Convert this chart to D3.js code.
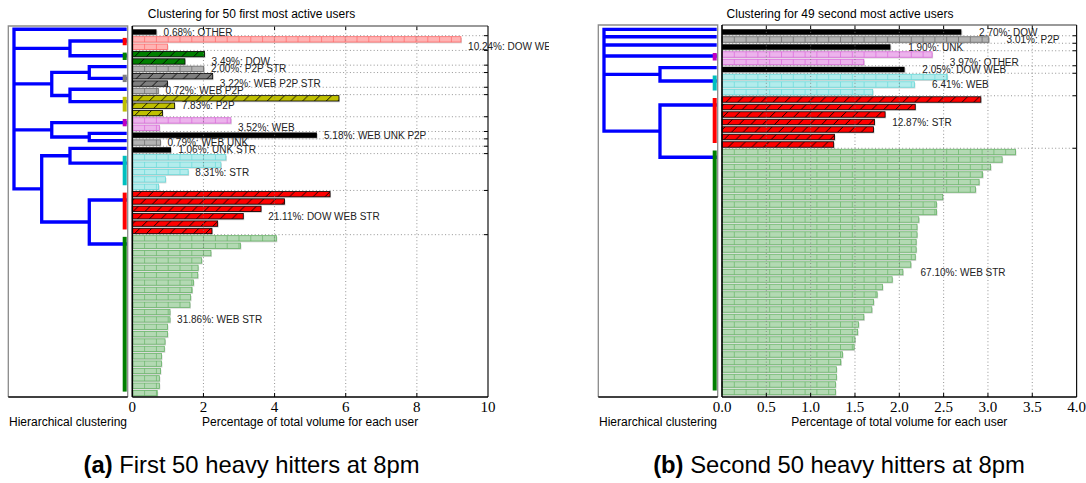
<!DOCTYPE html>
<html><head><meta charset="utf-8">
<script src="https://cdn.jsdelivr.net/npm/d3@7"></script>
<style>body{margin:0;background:#fff} svg{display:block}</style>
</head><body><svg id="c" width="1086" height="483"></svg>
<script>
// ---------------- DATA ----------------
// (a) first 50 users: per-user share of volume (%), in dendrogram order
const leftValues = [0.68, 9.24, 0.99, 2.03, 1.48, 2.01, 2.26, 0.99, 0.73, 5.81, 1.19, 0.85, 2.77, 0.76,
  5.19, 0.79, 1.09, 2.63, 2.49, 1.57, 0.93, 0.74, 5.56, 4.28, 3.62, 3.12, 2.40, 2.24,
  4.05, 3.04, 2.21, 1.95, 1.85, 1.84, 1.72, 1.68, 1.64, 1.62, 1.06, 1.06, 0.99, 0.99,
  0.92, 0.90, 0.82, 0.82, 0.79, 0.76, 0.76, 0.70];
const leftClusterNames = ["OTHER", "DOW WEB", "DOW", "P2P STR", "WEB P2P STR", "WEB P2P", "P2P", "WEB",
  "WEB UNK P2P", "WEB UNK", "UNK STR", "STR", "DOW WEB STR", "WEB STR"];
const leftClusterPct = [0.68, 10.24, 3.49, 2.00, 3.22, 0.72, 7.83, 3.52, 5.18, 0.79, 1.06, 8.31, 21.11, 31.86];
const leftClusterSizes = [1, 2, 2, 1, 2, 1, 3, 2, 1, 1, 1, 5, 6, 22];
const leftClusterColors = ["#000000", "#ff0000", "#007f00", "#000000", "#7f7f7f", "#000000", "#bfbf00", "#bf00bf",
  "#000000", "#000000", "#000000", "#00bfbf", "#ff0000", "#007f00"];
const leftClusterStyles = ["solid", "light", "hatch", "light", "hatch", "light", "hatch", "light",
  "solid", "light", "solid", "light", "hatch", "light"];
const leftLeafPos = [-0.37, 1.22, 3.22, 4.7, 6.28, 7.77, 9.46, 12.3, 13.75, 14.75, 15.78, 17.8, 22.8, 28.77];
const leftTree = {h: 0.952, c: [0, {h: 0.479, c: [1, 2]},
  {h: 0.633, c: [{h: 0.316, c: [3, 4]}, {h: 0.479, c: [5, 6]}]},
  {h: 0.633, c: [7, {h: 0.316, c: [8, 9]}]},
  {h: 0.718, c: [{h: 0.479, c: [10, 11]}, {h: 0.316, c: [12, 13]}]}]};
const leftTicks = [0, 2, 4, 6, 8, 10];

// (b) second 49 users
const rightValues = [2.70, 3.01, 1.90, 2.37, 1.60, 2.06, 2.54, 2.17, 1.70, 2.92, 2.18, 1.84, 1.72, 1.71,
  1.27, 1.26, 3.31, 3.16, 3.03, 2.94, 2.90, 2.86, 2.49, 2.42, 2.42, 2.22, 2.20, 2.20,
  2.19, 2.19, 2.18, 2.13, 2.04, 1.92, 1.81, 1.75, 1.71, 1.69, 1.60, 1.54, 1.53, 1.50,
  1.49, 1.36, 1.34, 1.29, 1.29, 1.28, 1.28];
const rightClusterNames = ["DOW", "P2P", "UNK", "OTHER", "DOW WEB", "WEB", "STR", "WEB STR"];
const rightClusterPct = [2.70, 3.01, 1.90, 3.97, 2.05, 6.41, 12.87, 67.10];
const rightClusterSizes = [1, 1, 1, 2, 1, 3, 7, 33];
const rightClusterColors = ["#000000", "#000000", "#000000", "#bf00bf", "#000000", "#00bfbf", "#ff0000", "#007f00"];
const rightClusterStyles = ["solid", "light", "solid", "light", "solid", "light", "hatch", "light"];
const rightLeafPos = [-0.36, 0.63, 1.73, 3.2, 4.76, 6.53, 9.73, 16.7];
const rightTree = {h: 0.952, c: [0, 1, 2, 3, {h: 0.479, c: [4, 5]}, {h: 0.479, c: [6, 7]}]};
const rightTicks = [0, 0.5, 1, 1.5, 2, 2.5, 3, 3.5, 4];

// ---------------- DRAWING ----------------
const SANS = "'Liberation Sans', Arial, Helvetica, sans-serif";
const SERIF = "'Liberation Serif', 'Times New Roman', serif";
const svg = d3.select("#c");
const defs = svg.append("defs");
const madePatterns = {};

function lightOf(col, t) { return d3.interpolateRgb("#ffffff", col)(t); }

function patternFor(style, col, x0) {
  const key = style + col.replace('#', '') + Math.round(x0);
  if (madePatterns[key]) return "url(#" + key + ")";
  madePatterns[key] = true;
  const w = 11.8;
  const p = defs.append("pattern").attr("id", key).attr("patternUnits", "userSpaceOnUse")
    .attr("x", x0).attr("y", 0).attr("width", w).attr("height", w);
  if (style === "light") {
    p.append("rect").attr("width", w).attr("height", w).attr("fill", lightOf(col, 0.3));
    p.append("line").attr("x1", 0.4).attr("x2", 0.4).attr("y1", 0).attr("y2", w)
      .attr("stroke", lightOf(col, 0.55)).attr("stroke-width", 0.9);
  } else {
    p.append("rect").attr("width", w).attr("height", w).attr("fill", col);
    p.append("path").attr("d", `M-1,1 l2,-2 M0,${w} l${w},${-w} M${w - 1},${w + 1} l2,-2`)
      .attr("stroke", "#000").attr("stroke-width", 0.9);
  }
  return "url(#" + key + ")";
}

function drawPanel(D, L) {
  const g = svg.append("g");
  if (L.clipRight) {
    const cid = "clip" + Math.round(L.clipRight);
    defs.append("clipPath").attr("id", cid).append("rect")
      .attr("x", 0).attr("y", 0).attr("width", L.clipRight).attr("height", 483);
    g.attr("clip-path", "url(#" + cid + ")");
  }
  const n = D.values.length;
  const x = d3.scaleLinear().domain(D.domain).range([L.bx0, L.bx1]);
  const y = d3.scaleLinear().domain([0, n - 1]).range(L.rowRange);
  const step = y(1) - y(0);
  const bh = step * 0.73;
  const starts = [];
  let s = 0;
  D.sizes.forEach(k => { starts.push(s); s += k; });
  const clusterOf = [];
  D.sizes.forEach((k, ci) => { for (let j = 0; j < k; j++) clusterOf.push(ci); });

  // ---- dendrogram ----
  const xd = d3.scaleLinear().domain([0, 1]).range([L.dLeaf, L.dx0]);
  const yd = v => y(v);
  function lay(node) {
    if (typeof node === "number") return {pos: D.leafPos[node], h: 0};
    const kids = node.c.map(lay);
    return {pos: (kids[0].pos + kids[kids.length - 1].pos) / 2, h: node.h, kids};
  }
  const root = lay(D.tree);
  const dg = g.append("g");
  (function draw(nd) {
    if (!nd.kids) return;
    const xn = xd(nd.h);
    const first = nd.kids[0], last = nd.kids[nd.kids.length - 1];
    let d = `M${xd(first.h)},${yd(first.pos)}H${xn}V${yd(last.pos)}H${xd(last.h)}`;
    nd.kids.slice(1, -1).forEach(k => { d += `M${xn},${yd(k.pos)}H${xd(k.h)}`; });
    dg.append("path").attr("d", d).attr("fill", "none").attr("stroke", "#0000ff")
      .attr("stroke-width", 3.3).attr("stroke-linejoin", "miter");
    nd.kids.forEach(draw);
  })(root);
  // cluster colour markers
  D.sizes.forEach((k, ci) => {
    if (k < 2) return;
    const y0 = y(starts[ci]) - 1.5, y1 = y(starts[ci] + k - 1) - 1.5;
    dg.append("rect").attr("x", xd(0) - 4).attr("width", 4).attr("y", y0).attr("height", y1 - y0)
      .attr("fill", D.colors[ci]);
  });
  // dendrogram frame
  const fr = g.append("g").attr("fill", "none");
  fr.append("path").attr("d", `M${L.dx0},${L.bottom}V${L.top}H${L.dBorder}V${L.bottom}`)
    .attr("stroke", "#8a8a8a").attr("stroke-width", 1.3);
  fr.append("line").attr("x1", L.dx0).attr("x2", L.dBorder).attr("y1", L.bottom).attr("y2", L.bottom)
    .attr("stroke", "#000").attr("stroke-width", 1.4);

  // ---- bars ----
  const bg = g.append("g");
  D.values.forEach((v, i) => {
    const ci = clusterOf[i];
    const st = D.styles[ci], col = D.colors[ci];
    const yy = y(i) - bh / 2, w = x(v) - x(0);
    bg.append("rect").attr("x", x(0) + 1).attr("y", yy + 1.3).attr("width", w).attr("height", bh)
      .attr("fill", "#cccccc").attr("opacity", 0.8);
    const r = bg.append("rect").attr("x", x(0)).attr("y", yy).attr("width", w).attr("height", bh);
    if (st === "solid") r.attr("fill", col);
    else if (st === "light") r.attr("fill", patternFor("light", col, L.bx0))
      .attr("stroke", lightOf(col, 0.6)).attr("stroke-width", 0.8);
    else r.attr("fill", patternFor("hatch", col, L.bx0)).attr("stroke", "#000").attr("stroke-width", 0.8);
  });

  // ---- grid ----
  const grid = g.append("g").attr("stroke", "#7a7a7a").attr("stroke-width", 0.8)
    .attr("stroke-dasharray", "1,2.4");
  D.ticks.slice(1, -1).forEach(t => {
    grid.append("line").attr("x1", x(t)).attr("x2", x(t)).attr("y1", L.top).attr("y2", L.bottom);
  });
  const bounds = starts.slice(1).map(st => y(st - 0.5));
  bounds.forEach(b => {
    grid.append("line").attr("x1", L.bx0).attr("x2", L.bx1).attr("y1", b).attr("y2", b);
  });

  // ---- cluster labels ----
  const lab = g.append("g").attr("font-family", SANS).attr("font-size", 10).attr("fill", "#222");
  D.sizes.forEach((k, ci) => {
    const ix = starts[ci] + Math.floor((k - 1) / 2);
    const iy = starts[ci] + Math.floor(k / 2);
    lab.append("text").attr("x", x(D.values[ix] + 0.2 * (D.domain[1] / 10) * (D.domain[1] === 10 ? 1 : 2.5)))
      .attr("y", y(iy)).attr("dominant-baseline", "central")
      .text(D.pct[ci].toFixed(2) + "%: " + D.names[ci]);
  });

  // ---- ticks & spines ----
  const tk = g.append("g").attr("stroke", "#000").attr("stroke-width", 1);
  D.ticks.slice(1, -1).forEach(t => {
    tk.append("line").attr("x1", x(t)).attr("x2", x(t)).attr("y1", L.top).attr("y2", L.top + 4);
    tk.append("line").attr("x1", x(t)).attr("x2", x(t)).attr("y1", L.bottom).attr("y2", L.bottom - 4);
  });
  bounds.forEach(b => {
    tk.append("line").attr("x1", L.bx1).attr("x2", L.bx1 - 4).attr("y1", b).attr("y2", b);
  });
  const sp = g.append("g").attr("fill", "none");
  sp.append("line").attr("x1", L.bx0).attr("x2", L.bx1).attr("y1", L.top).attr("y2", L.top)
    .attr("stroke", "#777").attr("stroke-width", 1.3);
  sp.append("line").attr("x1", L.bx1).attr("x2", L.bx1).attr("y1", L.top).attr("y2", L.bottom)
    .attr("stroke", "#111").attr("stroke-width", 1.2);
  sp.append("line").attr("x1", L.bx0).attr("x2", L.bx0).attr("y1", L.top).attr("y2", L.bottom)
    .attr("stroke", "#000").attr("stroke-width", 1.6);
  sp.append("line").attr("x1", L.bx0).attr("x2", L.bx1).attr("y1", L.bottom).attr("y2", L.bottom)
    .attr("stroke", "#000").attr("stroke-width", 1.6);

  // tick labels
  const tl = g.append("g").attr("font-family", SERIF).attr("font-size", 15).attr("fill", "#000")
    .attr("text-anchor", "middle");
  D.ticks.forEach(t => {
    tl.append("text").attr("x", x(t)).attr("y", L.bottom + 14.5).text(D.tickFmt(t));
  });

  // texts
  g.append("text").attr("x", (L.bx0 + L.bx1) / 2).attr("y", L.bottom + 28.5).attr("text-anchor", "middle")
    .attr("font-family", SANS).attr("font-size", 12).text("Percentage of total volume for each user");
  g.append("text").attr("x", (L.dx0 + L.dBorder) / 2).attr("y", L.bottom + 28.5).attr("text-anchor", "middle")
    .attr("font-family", SANS).attr("font-size", 12).text("Hierarchical clustering");
  g.append("text").attr("x", L.titleX).attr("y", 17.5).attr("text-anchor", "middle")
    .attr("font-family", SANS).attr("font-size", 12).text(D.title);
  const cap = svg.append("text").attr("x", L.captionX).attr("y", 473).attr("text-anchor", "middle")
    .attr("font-family", SANS).attr("font-size", 23.8).attr("fill", "#000");
  cap.append("tspan").attr("font-weight", "bold").text(D.tag);
  cap.append("tspan").text(" " + D.caption);
}

drawPanel({
  values: leftValues, names: leftClusterNames, pct: leftClusterPct, sizes: leftClusterSizes,
  colors: leftClusterColors, styles: leftClusterStyles, leafPos: leftLeafPos, tree: leftTree,
  ticks: leftTicks, domain: [0, 10], tickFmt: d3.format("d"),
  title: "Clustering for 50 first most active users", tag: "(a)", caption: "First 50 heavy hitters at 8pm"
}, {
  dx0: 8.3, dLeaf: 126.7, dBorder: 127.7, bx0: 132.3, bx1: 488, top: 26, bottom: 397,
  rowRange: [32, 393.1], clipRight: 549, titleX: 251.5, captionX: 251.5
});

drawPanel({
  values: rightValues, names: rightClusterNames, pct: rightClusterPct, sizes: rightClusterSizes,
  colors: rightClusterColors, styles: rightClusterStyles, leafPos: rightLeafPos, tree: rightTree,
  ticks: rightTicks, domain: [0, 4], tickFmt: d3.format(".1f"),
  title: "Clustering for 49 second most active users", tag: "(b)", caption: "Second 50 heavy hitters at 8pm"
}, {
  dx0: 598.3, dLeaf: 716.7, dBorder: 717.7, bx0: 722, bx1: 1076.6, top: 25, bottom: 397,
  rowRange: [32, 392], clipRight: null, titleX: 840, captionX: 839
});
</script>
</body></html>
